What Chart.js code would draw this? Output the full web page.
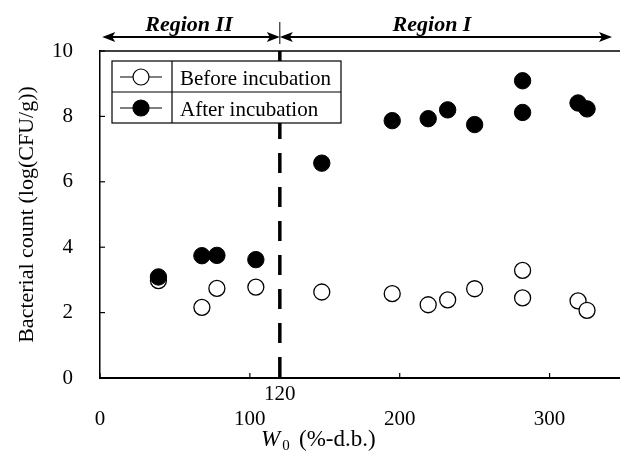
<!DOCTYPE html>
<html>
<head>
<meta charset="utf-8">
<script src="https://cdn.jsdelivr.net/npm/chart.js@4.4.1/dist/chart.umd.min.js"></script>
<style>
  html, body { margin: 0; padding: 0; background: #fff; }
  #wrap { width: 620px; height: 459px; position: relative; }
</style>
</head>
<body>
<div id="wrap"><canvas id="c" width="620" height="459"></canvas></div>
<script>
// ---- data ----
const moistureW0 = [39, 68, 78, 104, 148, 195, 219, 232, 250, 282, 282, 319, 325];
const beforeIncubation = [2.98, 2.16, 2.74, 2.78, 2.63, 2.58, 2.24, 2.39, 2.73, 3.29, 2.45, 2.36, 2.07];
const afterIncubationX = [39, 68, 78, 104, 148, 195, 219, 232, 250, 282, 282, 319, 325];
const afterIncubation = [3.09, 3.74, 3.75, 3.62, 6.57, 7.87, 7.93, 8.20, 7.75, 9.09, 8.12, 8.41, 8.23];
const xTicks = [0, 100, 200, 300];
const yTicks = [0, 2, 4, 6, 8, 10];
const regionBoundary = 120;
const seriesNames = ['Before incubation', 'After incubation'];
const regionNames = ['Region II', 'Region I'];
const xTitleParts = ['W', '0', '(%-d.b.)'];
const yTitle = 'Bacterial count (log(CFU/g))';

const SERIF = "'Liberation Serif', 'Times New Roman', serif";

const overlay = {
  id: 'overlay',
  beforeDatasetsDraw(chart) {
    const { ctx, chartArea: a, scales: { x } } = chart;
    const px = x.getPixelForValue(regionBoundary);
    ctx.save();
    ctx.strokeStyle = '#000';
    ctx.lineWidth = 3.5;
    ctx.setLineDash([20, 14]);
    ctx.beginPath(); ctx.moveTo(px, a.top); ctx.lineTo(px, a.bottom); ctx.stroke();
    ctx.restore();
  },
  afterDraw(chart) {
    const { ctx, chartArea: a, scales: { x, y } } = chart;
    ctx.save();
    ctx.strokeStyle = '#000';
    ctx.fillStyle = '#000';
    // top frame line
    ctx.lineWidth = 1.5;
    ctx.beginPath(); ctx.moveTo(a.left, a.top); ctx.lineTo(a.right, a.top); ctx.stroke();
    // inward ticks
    ctx.lineWidth = 1.2;
    x.ticks.forEach(t => {
      const p = x.getPixelForValue(t.value);
      ctx.beginPath(); ctx.moveTo(p, a.bottom); ctx.lineTo(p, a.bottom - 5); ctx.stroke();
    });
    y.ticks.forEach(t => {
      const p = y.getPixelForValue(t.value);
      ctx.beginPath(); ctx.moveTo(a.left, p); ctx.lineTo(a.left + 5, p); ctx.stroke();
    });
    // boundary label "120"
    const bx = x.getPixelForValue(regionBoundary);
    ctx.font = '21px ' + SERIF;
    ctx.textAlign = 'center';
    ctx.textBaseline = 'alphabetic';
    ctx.fillText(String(regionBoundary), bx, 400);
    // x title
    ctx.textAlign = 'left';
    const base = 446;
    let tx = 261;
    ctx.font = 'italic 23px ' + SERIF;
    ctx.fillText(xTitleParts[0], tx, base);
    tx += ctx.measureText(xTitleParts[0]).width + 2;
    ctx.font = '15px ' + SERIF;
    ctx.fillText(xTitleParts[1], tx, base + 4);
    ctx.font = '23px ' + SERIF;
    ctx.fillText(xTitleParts[2], 299, base);

    // region arrows
    const ay = 37;
    const lx = x.getPixelForValue(1.5);
    const rx = 612;
    ctx.lineWidth = 2;
    ctx.beginPath(); ctx.moveTo(lx + 4, ay); ctx.lineTo(bx - 4, ay); ctx.stroke();
    ctx.beginPath(); ctx.moveTo(bx + 4, ay); ctx.lineTo(rx - 4, ay); ctx.stroke();
    const head = (tipX, dir) => {
      ctx.beginPath();
      ctx.moveTo(tipX, ay);
      ctx.lineTo(tipX - dir * 13, ay - 5);
      ctx.lineTo(tipX - dir * 10, ay);
      ctx.lineTo(tipX - dir * 13, ay + 5);
      ctx.closePath(); ctx.fill();
    };
    head(lx, -1); head(bx, 1); head(bx, -1); head(rx, 1);
    ctx.lineWidth = 1;
    ctx.beginPath(); ctx.moveTo(bx, 22); ctx.lineTo(bx, 44); ctx.stroke();
    ctx.font = 'bold italic 22px ' + SERIF;
    ctx.textAlign = 'center';
    ctx.fillText(regionNames[0], 189, 31);
    ctx.fillText(regionNames[1], 432, 31);

    // legend box
    const L = 112, T = 61, R = 341, B = 123, M = 92, D = 172;
    ctx.fillStyle = '#fff';
    ctx.fillRect(L, T, R - L, B - T);
    ctx.fillStyle = '#000';
    ctx.lineWidth = 1.2;
    ctx.strokeRect(L, T, R - L, B - T);
    ctx.beginPath(); ctx.moveTo(L, M); ctx.lineTo(R, M); ctx.moveTo(D, T); ctx.lineTo(D, B); ctx.stroke();
    const rows = [[77, '#fff'], [108, '#000']];
    rows.forEach(([ry, fill], i) => {
      ctx.lineWidth = 1.2;
      ctx.beginPath(); ctx.moveTo(120, ry); ctx.lineTo(162, ry); ctx.stroke();
      ctx.beginPath(); ctx.arc(141, ry, 8, 0, Math.PI * 2);
      ctx.fillStyle = fill; ctx.fill(); ctx.stroke();
      ctx.fillStyle = '#000';
      ctx.font = '21px ' + SERIF;
      ctx.textAlign = 'left';
      ctx.fillText(seriesNames[i], 180, ry + 8);
    });
    ctx.restore();
  }
};

new Chart(document.getElementById('c'), {
  type: 'scatter',
  data: {
    datasets: [
      {
        label: seriesNames[1],
        data: afterIncubationX.map((v, i) => ({ x: v, y: afterIncubation[i] })),
        pointRadius: 8.2,
        pointBackgroundColor: '#000',
        pointBorderColor: '#000',
        pointBorderWidth: 1,
        order: 0
      },
      {
        label: seriesNames[0],
        data: moistureW0.map((v, i) => ({ x: v, y: beforeIncubation[i] })),
        pointRadius: 8,
        pointBackgroundColor: '#fff',
        pointBorderColor: '#000',
        pointBorderWidth: 1.3,
        order: 1
      }
    ]
  },
  options: {
    responsive: false,
    animation: false,
    devicePixelRatio: 1,
    layout: { autoPadding: false, padding: { left: 0, right: 0, top: 51, bottom: 0 } },
    plugins: { legend: { display: false }, tooltip: { enabled: false } },
    scales: {
      x: {
        type: 'linear', min: 0, max: 347,
        afterBuildTicks: s => { s.ticks = xTicks.map(v => ({ value: v })); },
        afterFit: s => { s.height = 81; s.paddingLeft = 0; s.paddingRight = 0; },
        grid: { display: false, drawTicks: false },
        border: { display: true, color: '#000', width: 2 },
        ticks: { color: '#000', font: { family: SERIF, size: 21 }, padding: 29, maxRotation: 0 }
      },
      y: {
        type: 'linear', min: 0, max: 10,
        afterBuildTicks: s => { s.ticks = yTicks.map(v => ({ value: v })); },
        afterFit: s => { s.width = 100; s.paddingTop = 0; s.paddingBottom = 0; },
        grid: { display: false, drawTicks: false },
        border: { display: true, color: '#000', width: 1.5 },
        ticks: { color: '#000', font: { family: SERIF, size: 21 }, padding: 27 },
        title: { display: true, text: yTitle, color: '#000', font: { family: SERIF, size: 22 }, padding: { top: 14, bottom: 0 } }
      }
    }
  },
  plugins: [overlay]
});
</script>
</body>
</html>
